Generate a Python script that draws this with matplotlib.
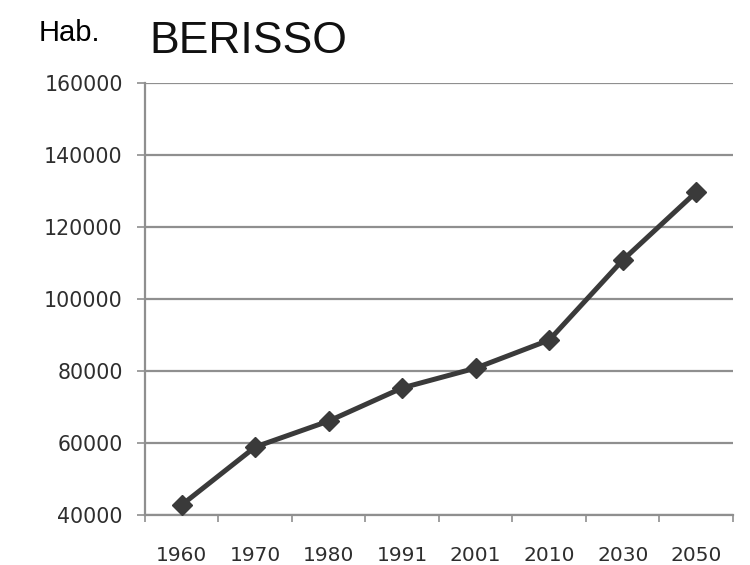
import matplotlib.pyplot as plt
import numpy as np

# Población de Berisso por censo y proyección
years = ['1960', '1970', '1980', '1991', '2001', '2010', '2030', '2050']
population = [42800, 58900, 66100, 75300, 80800, 88600, 110800, 129700]
y_ticks = [40000, 60000, 80000, 100000, 120000, 140000, 160000]

line_color = '#3a3a3a'
grid_color = '#8f8f8f'
text_color = '#2e2e2e'

fig = plt.figure(figsize=(7.5, 5.65), dpi=100)
ax = fig.add_axes([0.1933, 0.0885, 0.784, 0.7646])

x = np.arange(len(years))
ax.plot(x, population, color=line_color, lw=3.6, marker='D', markersize=10,
        markerfacecolor=line_color, markeredgecolor=line_color, zorder=3)

ax.set_ylim(40000, 160000)
ax.set_yticks(y_ticks)
ax.set_yticklabels([str(v) for v in y_ticks])
ax.yaxis.grid(True, color=grid_color, lw=1.6)
ax.set_axisbelow(True)

# etiquetas centradas en cada categoría, marcas en los límites
ax.set_xlim(-0.5, len(years) - 0.5)
ax.set_xticks(np.arange(len(years) + 1) - 0.5)
ax.set_xticklabels([])
ax.set_xticks(x, minor=True)
ax.set_xticklabels(years, minor=True)
ax.tick_params(axis='x', which='major', direction='out', length=5,
               width=1.2, color=grid_color)
ax.tick_params(axis='x', which='minor', length=0, pad=22,
               labelsize=14.5, labelcolor=text_color)
ax.tick_params(axis='y', direction='out', length=6, width=1.2,
               color=grid_color, pad=10, labelsize=14.8, labelcolor=text_color)

for side in ['top', 'right']:
    ax.spines[side].set_visible(False)
for side in ['left', 'bottom']:
    ax.spines[side].set_color(grid_color)
    ax.spines[side].set_linewidth(1.6)

fig.text(0.051, 0.941, 'Hab.', fontsize=21, family='Liberation Sans',
         va='center', ha='left', color='black')
fig.text(0.199, 0.927, 'BERISSO', fontsize=32, family='Liberation Sans',
         va='center', ha='left', color='#111111')

fig.savefig('out.png', dpi=100)
